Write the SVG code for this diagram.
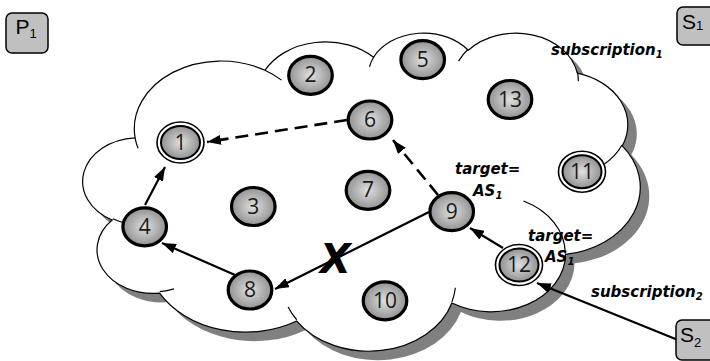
<svg xmlns="http://www.w3.org/2000/svg" width="710" height="361" viewBox="0 0 710 361">
<style>
.cloud{fill:#fff;stroke:#000;stroke-width:1.2}
.shadow{fill:#808080;stroke:none}
.tail{fill:none;stroke:#000;stroke-width:1.2}
.nd{fill:url(#ng);stroke:#000;stroke-width:3.2}
.ring{fill:#fff;stroke:#000;stroke-width:1.6}
.inner{fill:url(#ng);stroke:#000;stroke-width:2}
.num{font-family:'Open Sans','Liberation Sans',sans-serif;font-size:21px;fill:#1a1a1a;text-anchor:middle}
.lbl{font-family:'DejaVu Sans',Verdana,sans-serif;font-size:15px;font-weight:bold;font-style:italic;fill:#000}
.box{fill:#c0c0c0;stroke:#000;stroke-width:1.5}
.bt{font-family:'Liberation Sans',Arial,sans-serif;font-size:21px;fill:#000}
.solid{fill:none;stroke:#000;stroke-width:2.2}
.dash{fill:none;stroke:#000;stroke-width:2.6;stroke-dasharray:13 7}
</style>
<defs>
<radialGradient id="ng" cx="50%" cy="50%" r="55%">
<stop offset="0" stop-color="#e0e0e0"/>
<stop offset="1" stop-color="#8a8a8a"/>
</radialGradient>
<marker id="ah" markerUnits="userSpaceOnUse" viewBox="0 0 14 10" refX="14" refY="5" markerWidth="14" markerHeight="10" orient="auto">
<path d="M0,0 L14,5 L0,10 z" fill="#000"/>
</marker>
</defs>
<g id="cloud">
<path class="shadow" transform="translate(9,9)" d="M135.10,137.78 A86.76,67.65 0 0 1 264.93,70.30 A68.51,53.49 0 0 1 373.52,57.27 A56.08,43.76 0 0 1 468.30,50.28 A62.40,48.55 0 0 1 577.29,73.08 A68.51,53.54 0 0 1 622.27,145.84 A87.04,67.87 0 0 1 565.56,254.36 A74.32,57.91 0 0 1 451.88,303.02 A86.74,67.83 0 0 1 296.74,321.05 A99.18,77.61 0 0 1 159.58,293.10 A56.01,43.56 0 0 1 112.16,220.06 A55.82,43.76 0 0 1 135.10,137.78 Z"/>
<path class="cloud" d="M135.10,137.78 A86.76,67.65 0 0 1 264.93,70.30 A68.51,53.49 0 0 1 373.52,57.27 A56.08,43.76 0 0 1 468.30,50.28 A62.40,48.55 0 0 1 577.29,73.08 A68.51,53.54 0 0 1 622.27,145.84 A87.04,67.87 0 0 1 565.56,254.36 A74.32,57.91 0 0 1 451.88,303.02 A86.74,67.83 0 0 1 296.74,321.05 A99.18,77.61 0 0 1 159.58,293.10 A56.01,43.56 0 0 1 112.16,220.06 A55.82,43.76 0 0 1 135.10,137.78 Z"/>
<path class="tail" d="M145.29,224.69 A55.82,43.76 0 0 1 112.74,218.82 M174.01,288.90 A56.01,43.56 0 0 1 159.76,291.70 M296.70,319.74 A86.74,67.83 0 0 1 288.13,306.95 M455.35,287.81 A86.74,67.83 0 0 1 451.92,301.86 M523.46,200.97 A74.32,57.91 0 0 1 565.23,253.49 M621.98,145.02 A68.51,53.54 0 0 1 603.37,164.73 M577.35,71.94 A62.40,48.55 0 0 1 578.34,81.24 M458.57,61.09 A62.40,48.55 0 0 1 468.11,49.21 M369.45,66.74 A56.08,43.76 0 0 1 374.07,56.50 M264.86,70.22 A86.76,67.65 0 0 1 281.54,80.13 M138.02,148.22 A86.76,67.65 0 0 1 135.10,137.78"/>
</g>
<g id="connectors">
<line class="dash" x1="347" y1="120" x2="207" y2="142" marker-end="url(#ah)"/>
<line class="dash" x1="438" y1="195" x2="393" y2="140" marker-end="url(#ah)"/>
<line class="solid" x1="503" y1="248" x2="470" y2="228" marker-end="url(#ah)"/>
<line class="solid" x1="678" y1="340" x2="537" y2="283" marker-end="url(#ah)"/>
<line class="solid" x1="429" y1="212" x2="275" y2="289" marker-end="url(#ah)"/>
<line class="solid" x1="235" y1="275" x2="162" y2="243" marker-end="url(#ah)"/>
<line class="solid" x1="145" y1="205" x2="165" y2="167" marker-end="url(#ah)"/>
</g>
<g id="n1"><ellipse class="ring" cx="180.5" cy="142.5" rx="23.5" ry="20.5"/><ellipse class="inner" cx="180.5" cy="142.5" rx="19.5" ry="16.5"/><text class="num" x="180.5" y="149.5">1</text></g>
<g id="n2"><ellipse class="nd" cx="310.5" cy="75.3" rx="21.8" ry="19"/><text class="num" x="310.5" y="82.3">2</text></g>
<g id="n3"><ellipse class="nd" cx="253.3" cy="206.5" rx="21.8" ry="19"/><text class="num" x="253.3" y="213.5">3</text></g>
<g id="n4"><ellipse class="nd" cx="144.7" cy="226.8" rx="21.8" ry="19"/><text class="num" x="144.7" y="233.8">4</text></g>
<g id="n5"><ellipse class="nd" cx="422.7" cy="59.7" rx="21.8" ry="19"/><text class="num" x="422.7" y="66.7">5</text></g>
<g id="n6"><ellipse class="nd" cx="370" cy="120" rx="21.8" ry="19"/><text class="num" x="370" y="127">6</text></g>
<g id="n7"><ellipse class="nd" cx="368" cy="190.3" rx="21.8" ry="19"/><text class="num" x="368" y="197.3">7</text></g>
<g id="n8"><ellipse class="nd" cx="250" cy="290" rx="21.8" ry="19"/><text class="num" x="250" y="297">8</text></g>
<g id="n9"><ellipse class="nd" cx="451.7" cy="211.7" rx="21.8" ry="19"/><text class="num" x="451.7" y="218.7">9</text></g>
<g id="n10"><ellipse class="nd" cx="385" cy="300.8" rx="21.8" ry="19"/><text class="num" x="385" y="307.8">10</text></g>
<g id="n11"><ellipse class="ring" cx="582" cy="171.7" rx="23.5" ry="20.5"/><ellipse class="inner" cx="582" cy="171.7" rx="19.5" ry="16.5"/><text class="num" x="582" y="178.7">11</text></g>
<g id="n12"><ellipse class="ring" cx="519" cy="265" rx="23.5" ry="20.5"/><ellipse class="inner" cx="519" cy="265" rx="19.5" ry="16.5"/><text class="num" x="519" y="272">12</text></g>
<g id="n13"><ellipse class="nd" cx="510" cy="99.5" rx="21.8" ry="19"/><text class="num" x="510" y="106.5">13</text></g>
<g id="P1"><rect class="box" x="6" y="13" width="42" height="40" rx="6"/><text class="bt" x="15.5" y="33.5">P<tspan font-size="13" dy="4">1</tspan></text></g>
<g id="S1"><rect class="box" x="677" y="7" width="42" height="38" rx="6"/><text class="bt" x="682" y="28.5">S<tspan font-size="13" dy="1">1</tspan></text></g>
<g id="S2"><rect class="box" x="676" y="320" width="42" height="40" rx="6"/><text class="bt" x="680" y="341.8">S<tspan font-size="13" dy="5">2</tspan></text></g>
<g id="labels">
<text class="lbl" x="551" y="55">subscription<tspan font-size="10" dy="3">1</tspan></text>
<text class="lbl" x="591" y="297">subscription<tspan font-size="10" dy="3">2</tspan></text>
<text class="lbl" x="455" y="174">target=</text>
<text class="lbl" x="473" y="196">AS<tspan font-size="10" dy="3">1</tspan></text>
<text class="lbl" x="528" y="241">target=</text>
<text class="lbl" x="545" y="262">AS<tspan font-size="10" dy="3">1</tspan></text>
<text x="320" y="273" style="font-family:'DejaVu Sans',Verdana,sans-serif;font-size:40px;font-weight:bold;font-style:italic">X</text>
</g>
</svg>
